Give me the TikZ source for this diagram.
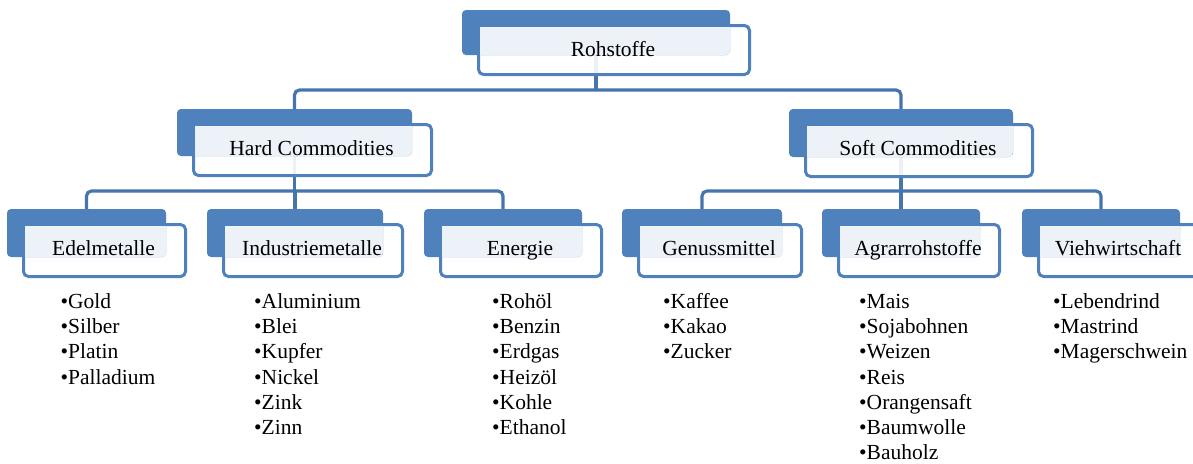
\documentclass[tikz,border=0pt]{standalone}
\usepackage{fontspec}
\setmainfont{Liberation Serif}
\usetikzlibrary{calc,fit}
\definecolor{boxblue}{HTML}{4F81BD}
\definecolor{linkblue}{HTML}{4675AE}
\pgfdeclarelayer{bg}
\pgfsetlayers{bg,main}
\tikzset{
  backbox/.style={fill=boxblue, draw=none, rounded corners=4pt, inner sep=0pt, outer sep=0pt},
  frontbox/.style={draw=boxblue, line width=3pt, fill=white, fill opacity=0.9, rounded corners=5pt, inner sep=0pt, outer sep=0pt},
  title/.style={font=\fontsize{21.5}{25}\selectfont, inner sep=0pt, anchor=base},
  itemlist/.style={font=\fontsize{21.5}{25.2}\selectfont, inner sep=0pt, anchor=base west},
  conn/.style={draw=linkblue, line width=3.2pt, rounded corners=5pt},
}
% one hierarchy box: dark tab behind, framed card in front, tinted overlap, title
% #1 name, #2-#5 corners of the dark tab, #6 title
\newcommand\tierbox[6]{%
  \coordinate (#1-p) at (#2,#3);
  \coordinate (#1-q) at (#4,#5);
  \coordinate (#1-r) at ($(#1-p)+(16.5,15.5)$);
  \coordinate (#1-s) at ($(#1-q)+(19.5,19.5)$);
  \node[frontbox, fit=(#1-r)(#1-s)] (#1) {};
  \node[backbox, fit=(#1-p)(#1-q)] (#1B) {};
  \begin{scope}
    \clip[rounded corners=4pt] (#1B.north west) rectangle (#1B.south east);
    \fill[white, fill opacity=0.9] ($(#1.north west)+(1.5,1.5)$) rectangle (#1B.south east);
  \end{scope}
  \node[title] (#1-t) at ($(#1.north)+(-1,30.5)$) {#6};
}
% bulleted list, first baseline at the node's base
\newcommand\entry[1]{\hbox{•#1}}
\newcommand\entries[1]{\vtop{\baselineskip=25.2pt\lineskiplimit=-100pt #1}}

\begin{document}
\begin{tikzpicture}[x=1pt,y=-1pt]
\path[use as bounding box] (0,0) rectangle (1193,463);
\begin{pgfonlayer}{bg}
  \fill[white] (0,0) rectangle (1193,463);
\end{pgfonlayer}

\tierbox{roh}{462}{10}{730}{55}{Rohstoffe}
\tierbox{hard}{177}{109}{412}{156}{Hard Commodities}
\tierbox{soft}{789}{109}{1013}{157}{Soft Commodities}
\tierbox{edel}{7}{209}{166}{257}{Edelmetalle}
\tierbox{indu}{207}{209}{383}{257}{Industriemetalle}
\tierbox{ener}{424}{209}{582}{257}{Energie}
\tierbox{genu}{622}{209}{782}{257}{Genussmittel}
\tierbox{agrar}{822}{209}{980}{257}{Agrarrohstoffe}
\tierbox{vieh}{1022}{209}{1180}{257}{Viehwirtschaft}

\node[itemlist] (edelL) at (60.5,308.5) {\entries{\entry{Gold}\entry{Silber}\entry{Platin}\entry{Palladium}}};
\node[itemlist] (induL) at (254,308.5) {\entries{\entry{Aluminium}\entry{Blei}\entry{Kupfer}\entry{Nickel}\entry{Zink}\entry{Zinn}}};
\node[itemlist] (enerL) at (492,308.5) {\entries{\entry{Rohöl}\entry{Benzin}\entry{Erdgas}\entry{Heizöl}\entry{Kohle}\entry{Ethanol}}};
\node[itemlist] (genuL) at (663,308.5) {\entries{\entry{Kaffee}\entry{Kakao}\entry{Zucker}}};
\node[itemlist] (agrarL) at (859,308.5) {\entries{\entry{Mais}\entry{Sojabohnen}\entry{Weizen}\entry{Reis}\entry{Orangensaft}\entry{Baumwolle}\entry{Bauholz}}};
\node[itemlist] (viehL) at (1053,308.5) {\entries{\entry{Lebendrind}\entry{Mastrind}\entry{Magerschwein}}};

% connectors run behind the boxes
\coordinate (bus1) at (0,90);
\coordinate (bus2) at (0,191);
\begin{pgfonlayer}{bg}
  \draw[conn] (rohB.center) -- (rohB.center |- bus1);
  \draw[conn] (rohB.center |- bus1) -| (hardB.center);
  \draw[conn] (rohB.center |- bus1) -| (softB.center);

  \draw[conn] (hardB.center) -- (hardB.center |- bus2);
  \draw[conn] (hardB.center |- bus2) -| (edelB.center);
  \draw[conn] (hardB.center |- bus2) -| (enerB.center);
  \draw[conn] (induB.center |- bus2) -- (induB.center);

  \draw[conn] (softB.center) -- (softB.center |- bus2);
  \draw[conn] (softB.center |- bus2) -| (genuB.center);
  \draw[conn] (softB.center |- bus2) -| (viehB.center);
  \draw[conn] (agrarB.center |- bus2) -- (agrarB.center);
\end{pgfonlayer}
\end{tikzpicture}
\end{document}
